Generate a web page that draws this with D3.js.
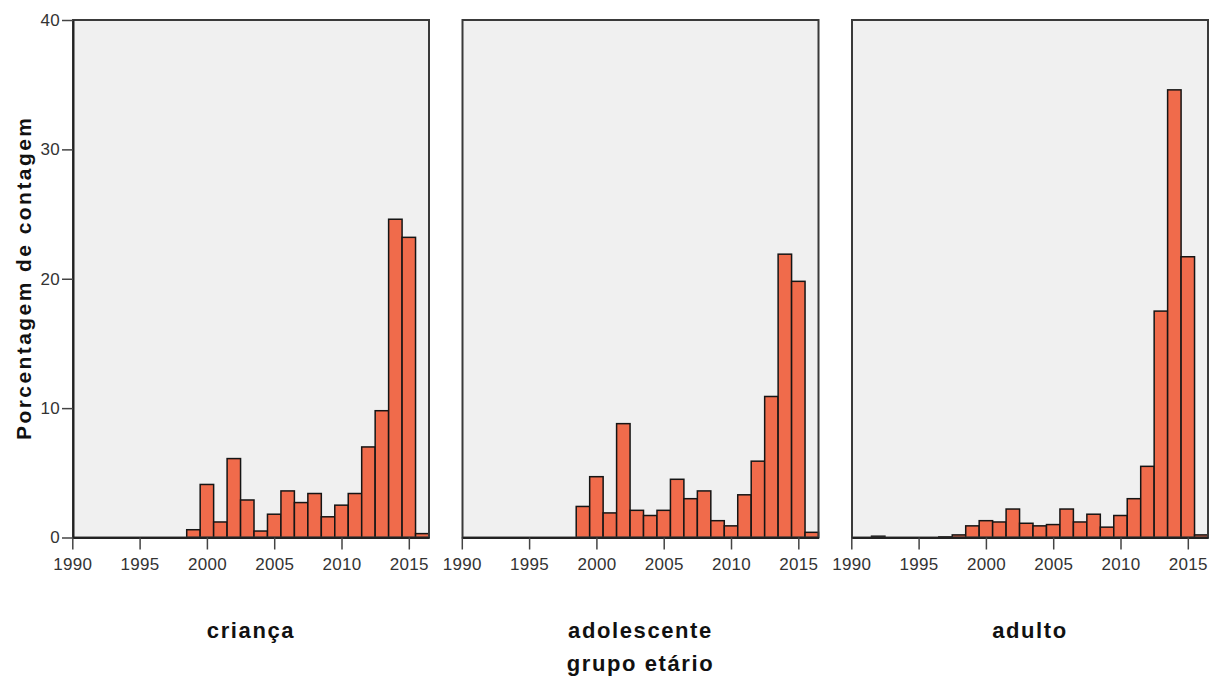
<!DOCTYPE html>
<html>
<head>
<meta charset="utf-8">
<script src="https://cdn.jsdelivr.net/npm/d3@7"></script>
<style>
  body { margin: 0; background: #fff; }
  text { font-family: "Liberation Sans", Arial, sans-serif; }
</style>
</head>
<body>
<svg width="1211" height="680"></svg>
<script>
// anos (centro de cada barra)
const years = d3.range(1990, 2017);

// porcentagem de contagem por grupo etário, 1990..2016
const crianca = [0, 0, 0, 0, 0, 0, 0, 0, 0, 0.6, 4.1, 1.2, 6.1, 2.9, 0.5, 1.8, 3.6, 2.7, 3.4, 1.6, 2.5, 3.4, 7.0, 9.8, 24.6, 23.2, 0.3];
const adolescente = [0, 0, 0, 0, 0, 0, 0, 0, 0, 2.4, 4.7, 1.9, 8.8, 2.1, 1.7, 2.1, 4.5, 3.0, 3.6, 1.3, 0.9, 3.3, 5.9, 10.9, 21.9, 19.8, 0.4];
const adulto = [0, 0, 0.1, 0, 0, 0, 0, 0.05, 0.2, 0.9, 1.3, 1.2, 2.2, 1.1, 0.9, 1.0, 2.2, 1.2, 1.8, 0.8, 1.7, 3.0, 5.5, 17.5, 34.6, 21.7, 0.2];

const groups = ['criança', 'adolescente', 'adulto'];
const series = [crianca, adolescente, adulto];
const xTicks = [1990, 1995, 2000, 2005, 2010, 2015];
const yTicks = [0, 10, 20, 30, 40];

const svg = d3.select('svg');

const panelW = 356, gap = 33.5, padLeft = 73, padTop = 20, baseY = 537.5;

const y = d3.scaleLinear().domain([0, 40]).range([baseY, padTop]);

groups.forEach((g, i) => {
	const x0 = padLeft + i * (panelW + gap);
	const x = d3.scaleLinear().domain([1990, 2016.5]).range([x0 - 0.7, x0 + panelW]);

	const p = svg.append('g');

	p.append('rect')
		.attr('x', x0).attr('y', padTop)
		.attr('width', panelW).attr('height', baseY - padTop)
		.attr('fill', '#f0f0f0');

	const data = years.map((yr, j) => ({ year: yr, value: series[i][j] }))
		.filter(d => d.value > 0);

	p.selectAll('rect.bar')
		.data(data)
		.enter()
		.append('rect')
		.attr('class', 'bar')
		.attr('x', d => x(d.year - 0.5))
		.attr('y', d => y(d.value))
		.attr('width', d => x(d.year + 0.5) - x(d.year - 0.5))
		.attr('height', d => y(0) - y(d.value))
		.attr('fill', '#f06b4b')
		.attr('stroke', '#151515')
		.attr('stroke-width', 1.5);

	// moldura
	p.append('rect')
		.attr('x', x0).attr('y', padTop)
		.attr('width', panelW).attr('height', baseY - padTop)
		.attr('fill', 'none')
		.attr('stroke', '#3a3a3a')
		.attr('stroke-width', 2);

	const xAxis = p.append('g')
		.attr('transform', `translate(0,${baseY})`)
		.call(d3.axisBottom(x).tickValues(xTicks).tickFormat(d3.format('d')).tickSize(12).tickSizeOuter(0));
	xAxis.select('.domain').attr('stroke', '#222').attr('stroke-width', 2);
	xAxis.selectAll('.tick line').attr('stroke', '#444').attr('stroke-width', 1.5);
	xAxis.selectAll('.tick text')
		.attr('y', 20)
		.attr('fill', '#333')
		.style('font-size', '17px')
		.style('letter-spacing', '0.3px');

	if (i === 0) {
		const yAxis = p.append('g')
			.attr('transform', `translate(${x0},0)`)
			.call(d3.axisLeft(y).tickValues(yTicks).tickSize(11).tickSizeOuter(0));
		yAxis.select('.domain').attr('stroke', '#222').attr('stroke-width', 2);
		yAxis.selectAll('.tick line').attr('stroke', '#444').attr('stroke-width', 1.5);
		yAxis.selectAll('.tick text')
			.attr('x', -13)
			.attr('fill', '#333')
			.style('font-size', '17px')
			.style('letter-spacing', '0.3px');
	}

	p.append('text')
		.attr('x', x0 + panelW / 2)
		.attr('y', 638)
		.attr('text-anchor', 'middle')
		.style('font-size', '22px')
		.style('font-weight', 'bold')
		.style('letter-spacing', '1.6px')
		.attr('fill', '#111')
		.text(g);
});

svg.append('text')
	.attr('x', padLeft + 1.5 * panelW + gap)
	.attr('y', 671)
	.attr('text-anchor', 'middle')
	.style('font-size', '22px')
	.style('font-weight', 'bold')
	.style('letter-spacing', '1.6px')
	.attr('fill', '#111')
	.text('grupo etário');

svg.append('text')
	.attr('transform', 'translate(31,279) rotate(-90)')
	.attr('text-anchor', 'middle')
	.style('font-size', '21px')
	.style('font-weight', 'bold')
	.attr('textLength', 322)
	.attr('lengthAdjust', 'spacing')
	.attr('fill', '#111')
	.text('Porcentagem de contagem');
</script>
</body>
</html>
